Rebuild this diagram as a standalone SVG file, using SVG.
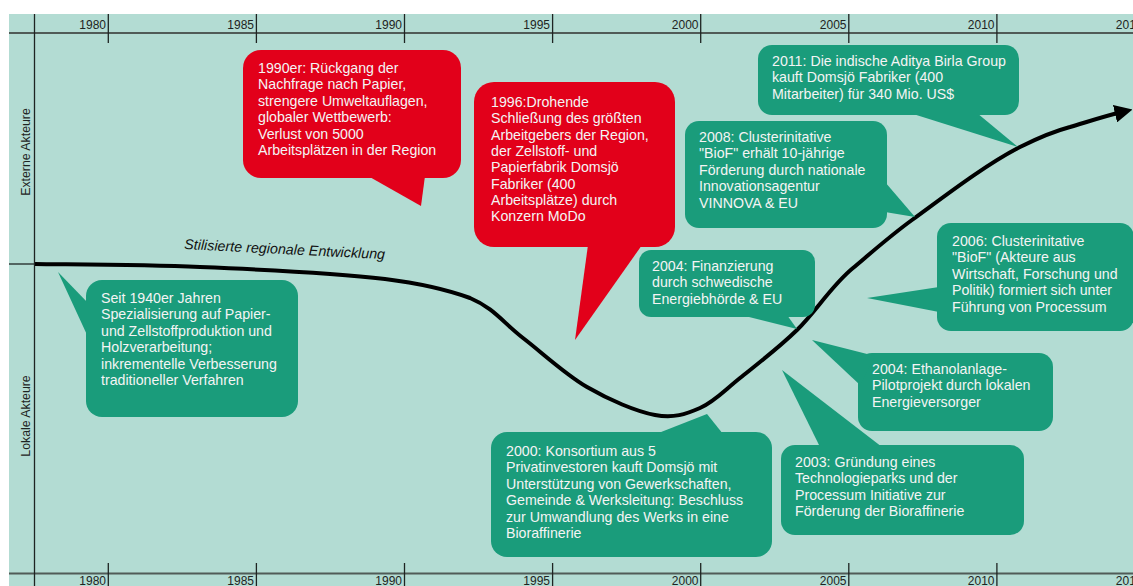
<svg xmlns="http://www.w3.org/2000/svg" width="1133" height="586" viewBox="0 0 1133 586">
<style>
.bg{fill:#b3dcd3}
.hax{stroke:#505b57;stroke-width:2;fill:none}
.tk{stroke:#1e2422;stroke-width:1.3;fill:none}
.yr{font-family:"Liberation Sans",Arial,sans-serif;font-size:12px;fill:#1e2422;text-anchor:end}
.side{font-family:"Liberation Sans",Arial,sans-serif;font-size:12.3px;fill:#1e2422;text-anchor:middle}
.g{fill:#1a9c7b}
.r{fill:#e2001a}
.t{font-family:"Liberation Sans",Arial,sans-serif;font-size:14.2px;fill:#f4f4f4}
.curve{stroke:#000;stroke-width:4;fill:none}
.lbl{font-family:"Liberation Sans",Arial,sans-serif;font-size:14.3px;font-style:italic;fill:#111}
</style>
<defs>
<marker id="ah" viewBox="0 0 10 10" refX="4" refY="5" markerWidth="4.5" markerHeight="4.5" orient="auto" markerUnits="strokeWidth">
<path d="M0,0 L10,5 L0,10 z" fill="#000"/>
</marker>
</defs>
<rect class="bg" x="9" y="14" width="1124" height="572"/>
<g id="axes">
<line class="hax" x1="9" y1="33" x2="1133" y2="33"/>
<line class="hax" x1="9" y1="573.5" x2="1133" y2="573.5"/>
<line class="tk" x1="34.5" y1="14" x2="34.5" y2="586"/>
<line class="tk" x1="9" y1="264" x2="34.5" y2="264"/>
<g class="tk">
<line x1="108.3" y1="14" x2="108.3" y2="43"/>
<line x1="256.4" y1="14" x2="256.4" y2="43"/>
<line x1="404.5" y1="14" x2="404.5" y2="43"/>
<line x1="552.6" y1="14" x2="552.6" y2="43"/>
<line x1="700.7" y1="14" x2="700.7" y2="43"/>
<line x1="848.8" y1="14" x2="848.8" y2="43"/>
<line x1="996.9" y1="14" x2="996.9" y2="43"/>
<line x1="108.3" y1="563" x2="108.3" y2="586"/>
<line x1="256.4" y1="563" x2="256.4" y2="586"/>
<line x1="404.5" y1="563" x2="404.5" y2="586"/>
<line x1="552.6" y1="563" x2="552.6" y2="586"/>
<line x1="700.7" y1="563" x2="700.7" y2="586"/>
<line x1="848.8" y1="563" x2="848.8" y2="586"/>
<line x1="996.9" y1="563" x2="996.9" y2="586"/>
</g>
<g class="yr">
<text x="106" y="29.3">1980</text>
<text x="254" y="29.3">1985</text>
<text x="402" y="29.3">1990</text>
<text x="550" y="29.3">1995</text>
<text x="698.5" y="29.3">2000</text>
<text x="846.5" y="29.3">2005</text>
<text x="994.5" y="29.3">2010</text>
<text x="1142.5" y="29.3">2015</text>
<text x="106" y="584.5">1980</text>
<text x="254" y="584.5">1985</text>
<text x="402" y="584.5">1990</text>
<text x="550" y="584.5">1995</text>
<text x="698.5" y="584.5">2000</text>
<text x="846.5" y="584.5">2005</text>
<text x="994.5" y="584.5">2010</text>
<text x="1142.5" y="584.5">2015</text>
</g>
<text class="side" transform="translate(29.5,152) rotate(-90)">Externe Akteure</text>
<text class="side" transform="translate(29.5,416) rotate(-90)">Lokale Akteure</text>
</g>
<g id="connectors">
<path class="curve" marker-end="url(#ah)" d="M35,264 C62.5,264.5 139.2,264.3 200,267 C257.5,269.3 335,273 385,279 C425,284 448,290 470,298 C493.8,308 503.5,323 523,338 C542.5,353 565,374.2 587,387 C609,399.8 636.2,411.5 655,415 C673.8,418.5 685.8,414.2 700,408 C714.2,401.8 723.8,391 740,378 C756.2,365 778.2,348.3 797,330 C815.8,311.7 832,285 853,268 C872,252 890,236 912,220 C945,196 985,165 1020,147 C1040,137 1055,131 1070,127 C1090,121 1105,116 1122,112"/>
<text class="lbl" transform="translate(184,249) rotate(2.9)">Stilisierte regionale Entwicklung</text>
</g>
<g id="n1990">
<rect class="r" x="243" y="50" width="218" height="128" rx="18"/>
<polygon class="r" points="368,176 425,176 421,206"/>
<text class="t" x="258" y="73"><tspan x="258">1990er: Rückgang der</tspan><tspan x="258" dy="16.4">Nachfrage nach Papier,</tspan><tspan x="258" dy="16.4">strengere Umweltauflagen,</tspan><tspan x="258" dy="16.4">globaler Wettbewerb:</tspan><tspan x="258" dy="16.4">Verlust von 5000</tspan><tspan x="258" dy="16.4">Arbeitsplätzen in der Region</tspan></text>
</g>
<g id="n1996">
<rect class="r" x="474" y="82" width="201" height="165" rx="20"/>
<polygon class="r" points="588,245 642,245 575,340"/>
<text class="t" x="491" y="107"><tspan x="491">1996:Drohende</tspan><tspan x="491" dy="16.3">Schließung des größten</tspan><tspan x="491" dy="16.3">Arbeitgebers der Region,</tspan><tspan x="491" dy="16.3">der Zellstoff- und</tspan><tspan x="491" dy="16.3">Papierfabrik Domsjö</tspan><tspan x="491" dy="16.3">Fabriker (400</tspan><tspan x="491" dy="16.3">Arbeitsplätze) durch</tspan><tspan x="491" dy="16.3">Konzern MoDo</tspan></text>
</g>
<g id="n2011">
<rect class="g" x="758" y="45" width="261" height="70" rx="14"/>
<polygon class="g" points="910,113 977,113 1018,147"/>
<text class="t" x="772" y="66"><tspan x="772">2011: Die indische Aditya Birla Group</tspan><tspan x="772" dy="16.4">kauft Domsjö Fabriker (400</tspan><tspan x="772" dy="16.4">Mitarbeiter) für 340 Mio. US$</tspan></text>
</g>
<g id="n2008">
<rect class="g" x="685" y="121" width="202" height="107" rx="14"/>
<polygon class="g" points="885,182 915,217 885,212"/>
<text class="t" x="699" y="142"><tspan x="699">2008: Clusterinitative</tspan><tspan x="699" dy="16.4">"BioF" erhält 10-jährige</tspan><tspan x="699" dy="16.4">Förderung durch nationale</tspan><tspan x="699" dy="16.4">Innovationsagentur</tspan><tspan x="699" dy="16.4">VINNOVA &amp; EU</tspan></text>
</g>
<g id="n2004a">
<rect class="g" x="639" y="250" width="176" height="67" rx="12"/>
<polygon class="g" points="741,315 787,315 797,329"/>
<text class="t" x="652" y="271"><tspan x="652">2004: Finanzierung</tspan><tspan x="652" dy="16.4">durch schwedische</tspan><tspan x="652" dy="16.4">Energiebhörde &amp;  EU</tspan></text>
</g>
<g id="n2006">
<rect class="g" x="937" y="223" width="197" height="108" rx="14"/>
<polygon class="g" points="867,298 939,287 939,312"/>
<text class="t" x="952" y="246"><tspan x="952">2006: Clusterinitative</tspan><tspan x="952" dy="16.4">"BioF" (Akteure aus</tspan><tspan x="952" dy="16.4">Wirtschaft, Forschung und</tspan><tspan x="952" dy="16.4">Politik) formiert sich unter</tspan><tspan x="952" dy="16.4">Führung von Processum</tspan></text>
</g>
<g id="n2004b">
<rect class="g" x="858" y="353" width="195" height="78" rx="14"/>
<polygon class="g" points="812,340 875,356 860,385"/>
<text class="t" x="872" y="374"><tspan x="872">2004: Ethanolanlage-</tspan><tspan x="872" dy="16.4">Pilotprojekt durch lokalen</tspan><tspan x="872" dy="16.4">Energieversorger</tspan></text>
</g>
<g id="n2003">
<rect class="g" x="781" y="445" width="243" height="90" rx="14"/>
<polygon class="g" points="782,370 820,447 882,447"/>
<text class="t" x="795" y="467"><tspan x="795">2003: Gründung eines</tspan><tspan x="795" dy="16.4">Technologieparks und der</tspan><tspan x="795" dy="16.4">Processum Initiative zur</tspan><tspan x="795" dy="16.4">Förderung der Bioraffinerie</tspan></text>
</g>
<g id="n2000">
<rect class="g" x="491" y="432" width="281" height="125" rx="16"/>
<polygon class="g" points="656,434 723,434 707,414"/>
<text class="t" x="506" y="456"><tspan x="506">2000:  Konsortium aus 5</tspan><tspan x="506" dy="16.4">Privatinvestoren kauft Domsjö mit</tspan><tspan x="506" dy="16.4">Unterstützung von Gewerkschaften,</tspan><tspan x="506" dy="16.4">Gemeinde &amp; Werksleitung: Beschluss</tspan><tspan x="506" dy="16.4">zur Umwandlung des Werks in  eine</tspan><tspan x="506" dy="16.4">Bioraffinerie</tspan></text>
</g>
<g id="n1940">
<rect class="g" x="86" y="280" width="212" height="137" rx="16"/>
<polygon class="g" points="58,272 88,303 88,337"/>
<text class="t" x="101" y="303"><tspan x="101">Seit 1940er  Jahren</tspan><tspan x="101" dy="16.4">Spezialisierung auf Papier-</tspan><tspan x="101" dy="16.4">und Zellstoffproduktion und</tspan><tspan x="101" dy="16.4">Holzverarbeitung;</tspan><tspan x="101" dy="16.4">inkrementelle Verbesserung</tspan><tspan x="101" dy="16.4">traditioneller Verfahren</tspan></text>
</g>
</svg>
